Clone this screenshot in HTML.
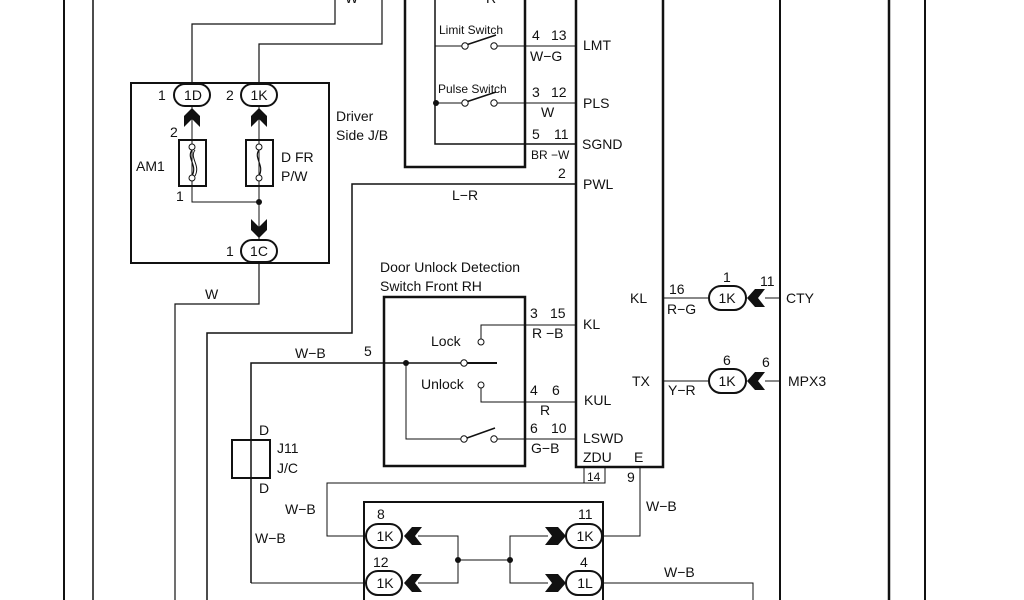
<!DOCTYPE html>
<html><head><meta charset="utf-8"><style>
html,body{margin:0;padding:0;background:#fff;}
svg{display:block;}
text{font-family:"Liberation Sans",sans-serif;font-size:14px;fill:#111;}
.s{font-size:12px;}
</style></head><body>
<svg width="1024" height="600" viewBox="0 0 1024 600" xmlns="http://www.w3.org/2000/svg">
<g stroke="#111" fill="none">
<line x1="64" y1="0" x2="64" y2="600" stroke-width="2"/>
<line x1="93" y1="0" x2="93" y2="600" stroke-width="1.5"/>
<line x1="780" y1="0" x2="780" y2="600" stroke-width="2"/>
<line x1="889" y1="0" x2="889" y2="600" stroke-width="2.5"/>
<line x1="925" y1="0" x2="925" y2="600" stroke-width="2"/>
<polyline points="576,0 576,467 663,467 663,0" stroke-width="2.5"/>
<polyline points="405,0 405,167 525,167 525,0" stroke-width="2.5"/>
<polyline points="435,0 435,144 576,144" stroke-width="1.5"/>
<line x1="435" y1="46" x2="462" y2="46" stroke-width="1"/>
<line x1="496" y1="46" x2="576" y2="46" stroke-width="1"/>
<line x1="435" y1="103" x2="462" y2="103" stroke-width="1"/>
<line x1="496" y1="103" x2="576" y2="103" stroke-width="1"/>
<line x1="466" y1="45" x2="496" y2="35" stroke-width="1.5"/>
<line x1="466" y1="102" x2="496" y2="92" stroke-width="1.5"/>
<circle cx="465" cy="46" r="3.2" fill="#fff" stroke-width="1"/>
<circle cx="494" cy="46" r="3.2" fill="#fff" stroke-width="1"/>
<circle cx="465" cy="103" r="3.2" fill="#fff" stroke-width="1"/>
<circle cx="494" cy="103" r="3.2" fill="#fff" stroke-width="1"/>
<polyline points="192,84 192,24 335,24 335,0" stroke-width="1.2"/>
<polyline points="259,84 259,44 382,44 382,0" stroke-width="1.2"/>
<rect x="131" y="83" width="198" height="180" stroke-width="2"/>
<line x1="192" y1="106" x2="192" y2="186" stroke-width="1"/>
<line x1="259" y1="106" x2="259" y2="240" stroke-width="1"/>
<polyline points="192,186 192,202 259,202" stroke-width="1"/>
<rect x="179" y="140" width="27" height="46" stroke-width="2"/>
<rect x="246" y="140" width="27" height="46" stroke-width="2"/>
<path d="M192,150 C186,158 198,165 192,176" stroke-width="1.2"/>
<path d="M195,150 C189,158 201,165 195,176" stroke-width="1"/>
<path d="M259,150 C253,158 265,165 259,176" stroke-width="1.2"/>
<circle cx="192" cy="147" r="3" fill="#fff" stroke-width="1"/>
<circle cx="192" cy="178" r="3" fill="#fff" stroke-width="1"/>
<circle cx="259" cy="147" r="3" fill="#fff" stroke-width="1"/>
<circle cx="259" cy="178" r="3" fill="#fff" stroke-width="1"/>
<polyline points="259,262 259,304 175,304 175,600" stroke-width="1.2"/>
<polyline points="576,184 352,184 352,333 207,333 207,600" stroke-width="1.5"/>
<rect x="384" y="297" width="141" height="169" stroke-width="2.5"/>
<polyline points="251,583 251,363 462,363" stroke-width="1.5"/>
<line x1="466" y1="363" x2="497" y2="363" stroke-width="2"/>
<polyline points="481,339 481,325 576,325" stroke-width="1"/>
<polyline points="481,388 481,402 576,402" stroke-width="1"/>
<polyline points="406,363 406,439 461,439" stroke-width="1"/>
<line x1="497" y1="439" x2="576" y2="439" stroke-width="1"/>
<line x1="467" y1="438" x2="495" y2="428" stroke-width="1.5"/>
<circle cx="464" cy="363" r="3.2" fill="#fff" stroke-width="1"/>
<circle cx="481" cy="342" r="3" fill="#fff" stroke-width="1"/>
<circle cx="481" cy="385" r="3" fill="#fff" stroke-width="1"/>
<circle cx="464" cy="439" r="3.2" fill="#fff" stroke-width="1"/>
<circle cx="494" cy="439" r="3.2" fill="#fff" stroke-width="1"/>
<rect x="232" y="440" width="38" height="38" stroke-width="2"/>
<polyline points="605,467 605,483 327,483 327,536 367,536" stroke-width="1"/>
<rect x="584" y="467" width="21" height="16" stroke-width="1"/>
<polyline points="640,467 640,536 603,536" stroke-width="1"/>
<line x1="251" y1="583" x2="367" y2="583" stroke-width="1"/>
<polyline points="603,583 753,583 753,600" stroke-width="1"/>
<polyline points="364,600 364,502 603,502 603,600" stroke-width="2"/>
<polyline points="418,536 458,536 458,583 418,583" stroke-width="1"/>
<line x1="458" y1="560" x2="510" y2="560" stroke-width="1"/>
<polyline points="548,536 510,536 510,583 548,583" stroke-width="1"/>
<line x1="663" y1="298" x2="710" y2="298" stroke-width="1"/>
<line x1="765" y1="298" x2="780" y2="298" stroke-width="1"/>
<line x1="663" y1="381" x2="710" y2="381" stroke-width="1"/>
<line x1="765" y1="381" x2="780" y2="381" stroke-width="1"/>
</g>
<g fill="#111">
<circle cx="259" cy="202" r="3"/>
<circle cx="436" cy="103" r="3"/>
<circle cx="406" cy="363" r="3"/>
<circle cx="458" cy="560" r="3"/>
<circle cx="510" cy="560" r="3"/>
<polygon points="192,108 184,116 184,127 192,119 200,127 200,116"/>
<polygon points="259,108 251,116 251,127 259,119 267,127 267,116"/>
<polygon points="259,238 251,230 251,219 259,227 267,219 267,230"/>
<polygon points="404,536 412,527 422,527 415,536 422,545 412,545"/>
<polygon points="404,583 412,574 422,574 415,583 422,592 412,592"/>
<polygon points="747,298 755,289 765,289 758,298 765,307 755,307"/>
<polygon points="747,381 755,372 765,372 758,381 765,390 755,390"/>
<polygon points="566,536 558,527 545,527 552,536 545,545 558,545"/>
<polygon points="566,583 558,574 545,574 552,583 545,592 558,592"/>
</g>
<g fill="#fff" stroke="#111" stroke-width="2">
<rect x="174" y="84" width="36" height="22" rx="11"/>
<rect x="241" y="84" width="36" height="22" rx="11"/>
<rect x="241" y="240" width="36" height="22" rx="11"/>
<rect x="366" y="524" width="36" height="24" rx="12"/>
<rect x="366" y="571" width="36" height="24" rx="12"/>
<rect x="566" y="524" width="36" height="24" rx="12"/>
<rect x="566" y="571" width="36" height="24" rx="12"/>
<rect x="709" y="286" width="37" height="24" rx="12"/>
<rect x="709" y="369" width="37" height="24" rx="12"/>
</g>
<g text-anchor="middle">
<text x="193" y="100">1D</text><text x="259" y="100">1K</text><text x="259" y="256">1C</text>
<text x="385" y="541">1K</text><text x="385" y="588">1K</text>
<text x="585" y="541">1K</text><text x="585" y="588">1L</text>
<text x="727" y="303">1K</text><text x="727" y="386">1K</text>
</g>
<text x="345" y="3">W</text><text x="486" y="3">R</text>
<text x="158" y="100">1</text><text x="226" y="100">2</text><text x="226" y="256">1</text>
<text x="170" y="137">2</text><text x="176" y="201">1</text>
<text x="136" y="171">AM1</text><text x="281" y="162">D FR</text><text x="281" y="181">P/W</text>
<text x="336" y="121">Driver</text><text x="336" y="140">Side J/B</text>
<text x="205" y="299">W</text>
<text x="452" y="200">L−R</text>
<text class="s" x="439" y="34">Limit Switch</text>
<text class="s" x="438" y="93">Pulse Switch</text>
<text x="532" y="40">4</text><text x="551" y="40">13</text><text x="530" y="61">W−G</text>
<text x="532" y="97">3</text><text x="551" y="97">12</text><text x="541" y="117">W</text>
<text x="532" y="139">5</text><text x="554" y="139">11</text><text class="s" x="531" y="159">BR −W</text>
<text x="558" y="178">2</text>
<text x="583" y="50">LMT</text><text x="583" y="108">PLS</text><text x="582" y="149">SGND</text><text x="583" y="189">PWL</text>
<text x="380" y="272">Door Unlock Detection</text><text x="380" y="291">Switch Front RH</text>
<text x="530" y="318">3</text><text x="550" y="318">15</text><text x="532" y="338">R −B</text>
<text x="583" y="329">KL</text>
<text x="431" y="346">Lock</text><text x="421" y="389">Unlock</text>
<text x="295" y="358">W−B</text><text x="364" y="356">5</text>
<text x="530" y="395">4</text><text x="552" y="395">6</text><text x="540" y="415">R</text>
<text x="584" y="405">KUL</text>
<text x="530" y="433">6</text><text x="551" y="433">10</text><text x="531" y="453">G−B</text>
<text x="583" y="443">LSWD</text><text x="583" y="462">ZDU</text><text x="634" y="462">E</text>
<text class="s" x="587" y="481">14</text><text x="627" y="482">9</text>
<text x="630" y="303">KL</text><text x="632" y="386">TX</text>
<text x="669" y="294">16</text><text x="667" y="314">R−G</text>
<text x="668" y="395">Y−R</text>
<text x="723" y="282">1</text><text x="760" y="286">11</text>
<text x="723" y="365">6</text><text x="762" y="367">6</text>
<text x="786" y="303">CTY</text><text x="788" y="386">MPX3</text>
<text x="259" y="435">D</text><text x="259" y="493">D</text>
<text x="277" y="453">J11</text><text x="277" y="473">J/C</text>
<text x="285" y="514">W−B</text><text x="255" y="543">W−B</text>
<text x="646" y="511">W−B</text><text x="664" y="577">W−B</text>
<text x="377" y="519">8</text><text x="373" y="567">12</text>
<text x="578" y="519">11</text><text x="580" y="567">4</text>
</svg>
</body></html>
